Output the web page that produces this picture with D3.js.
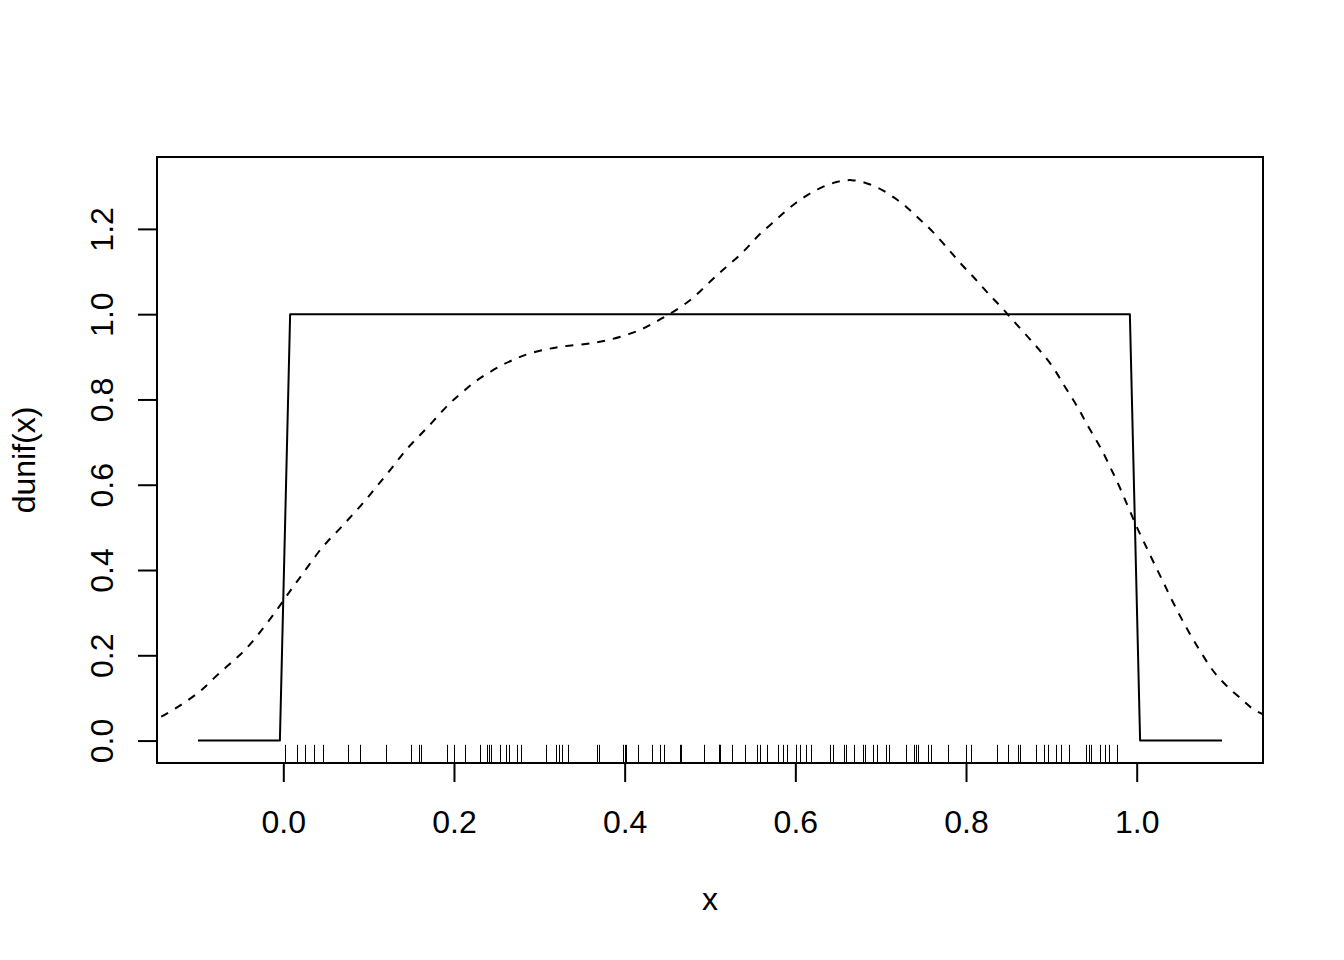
<!DOCTYPE html>
<html>
<head>
<meta charset="utf-8">
<script src="https://cdn.jsdelivr.net/npm/d3@7"></script>
<style>
  html, body { margin: 0; padding: 0; background: #fff; }
  text { font-family: "Liberation Sans", Arial, sans-serif; fill: #000; }
</style>
</head>
<body>
<svg id="chart" width="1344" height="960"></svg>
<script>
// Uniform density (curve of dunif over -0.1..1.1)
const unifX = [-0.1, -0.004, 0.008, 0.992, 1.004, 1.1];
const unifY = [0, 0, 1, 1, 0, 0];

// Kernel density estimate (dashed line)
const densX = [-0.16, -0.1436, -0.128, -0.1105, -0.0948, -0.0812, -0.0655, -0.052, -0.0383, -0.0227, -0.0078, 0.0047, 0.0164, 0.0281, 0.0398, 0.0515, 0.0651, 0.0776, 0.0905, 0.1022, 0.1139, 0.1256, 0.1373, 0.149, 0.1626, 0.1744, 0.188, 0.1996, 0.2133, 0.227, 0.2426, 0.2581, 0.2738, 0.2894, 0.3089, 0.3245, 0.344, 0.3634, 0.381, 0.4005, 0.418, 0.4337, 0.4493, 0.4669, 0.4824, 0.4961, 0.5097, 0.5214, 0.5351, 0.5468, 0.5585, 0.5722, 0.5858, 0.5995, 0.615, 0.6307, 0.6483, 0.6658, 0.6853, 0.7028, 0.7185, 0.732, 0.7437, 0.7594, 0.7817, 0.7952, 0.8081, 0.8198, 0.8303, 0.842, 0.8537, 0.8666, 0.8791, 0.8908, 0.9037, 0.9134, 0.9232, 0.933, 0.9408, 0.9505, 0.9603, 0.968, 0.9759, 0.9836, 0.9915, 1.0008, 1.0087, 1.0164, 1.0242, 1.0321, 1.0398, 1.0492, 1.0578, 1.0672, 1.0772, 1.087, 1.0988, 1.1123, 1.126, 1.1377, 1.16];
const densY = [0.040, 0.0546, 0.073, 0.096, 0.119, 0.147, 0.175, 0.198, 0.226, 0.266, 0.305, 0.342, 0.374, 0.406, 0.439, 0.467, 0.494, 0.522, 0.55, 0.578, 0.607, 0.635, 0.666, 0.694, 0.721, 0.746, 0.777, 0.8, 0.823, 0.846, 0.865, 0.883, 0.897, 0.909, 0.918, 0.924, 0.928, 0.932, 0.939, 0.95, 0.962, 0.979, 0.996, 1.018, 1.041, 1.069, 1.094, 1.115, 1.138, 1.163, 1.189, 1.212, 1.237, 1.26, 1.281, 1.298, 1.311, 1.317, 1.307, 1.291, 1.27, 1.249, 1.226, 1.198, 1.147, 1.115, 1.089, 1.062, 1.039, 1.016, 0.988, 0.96, 0.932, 0.905, 0.872, 0.837, 0.807, 0.775, 0.744, 0.712, 0.678, 0.645, 0.613, 0.578, 0.541, 0.497, 0.465, 0.432, 0.4, 0.368, 0.335, 0.298, 0.266, 0.233, 0.201, 0.169, 0.141, 0.115, 0.092, 0.069, 0.052];

const rugX = [0.0015, 0.0164, 0.0257, 0.0363, 0.0468, 0.0756, 0.0896, 0.1209, 0.1493, 0.1587, 0.1615, 0.1923, 0.2004, 0.2133, 0.2300, 0.2390, 0.2410, 0.2434, 0.2535, 0.2613, 0.2645, 0.2742, 0.2785, 0.3077, 0.3190, 0.3230, 0.3268, 0.3335, 0.3674, 0.3705, 0.3978, 0.4009, 0.4015, 0.4158, 0.4318, 0.4415, 0.4465, 0.4649, 0.4655, 0.4930, 0.5100, 0.5106, 0.5112, 0.5258, 0.5413, 0.5546, 0.5585, 0.5671, 0.5799, 0.5851, 0.5905, 0.6007, 0.6013, 0.6054, 0.6124, 0.6178, 0.6412, 0.6443, 0.6568, 0.6591, 0.6691, 0.6787, 0.6817, 0.6911, 0.6958, 0.7068, 0.7098, 0.7302, 0.7387, 0.7410, 0.7437, 0.7559, 0.7590, 0.7788, 0.7996, 0.8058, 0.8362, 0.8491, 0.8608, 0.8636, 0.8815, 0.8908, 0.8955, 0.9049, 0.9115, 0.9204, 0.9408, 0.9438, 0.9462, 0.9572, 0.9626, 0.9681, 0.9774];

const xTicks = [0, 0.2, 0.4, 0.6, 0.8, 1.0];
const yTicks = [0, 0.2, 0.4, 0.6, 0.8, 1.0, 1.2];
const xLabel = "x";
const yLabel = "dunif(x)";

const svg = d3.select("#chart");
const L = 157, R = 1263, T = 157, B = 763;

const x = d3.scaleLinear().domain([-0.148, 1.148]).range([L, R]);
const y = d3.scaleLinear().domain([-0.0526, 1.3686]).range([B, T]);

svg.append("rect").attr("width", 1344).attr("height", 960).attr("fill", "#fff");

svg.append("defs").append("clipPath").attr("id", "clip")
  .append("rect").attr("x", L).attr("y", T).attr("width", R - L).attr("height", B - T);

const plot = svg.append("g").attr("clip-path", "url(#clip)");

// uniform density solid line
plot.append("path")
  .datum(unifX.map((v, i) => [v, unifY[i]]))
  .attr("fill", "none").attr("stroke", "#000").attr("stroke-width", 2)
  .attr("stroke-linejoin", "round")
  .attr("d", d3.line().x(d => x(d[0])).y(d => y(d[1])));

// density dashed line
plot.append("path")
  .datum(densX.map((v, i) => [v, densY[i]]))
  .attr("fill", "none").attr("stroke", "#000").attr("stroke-width", 2)
  .attr("stroke-dasharray", "8,8")
  .attr("d", d3.line().curve(d3.curveBasis).x(d => x(d[0])).y(d => y(d[1])));

// rug
const rugLen = (B - T) * 0.03;
svg.append("g").selectAll("line").data(rugX).join("line")
  .attr("x1", d => Math.round(x(d)) + 0.5).attr("x2", d => Math.round(x(d)) + 0.5)
  .attr("y1", B).attr("y2", B - rugLen)
  .attr("stroke", "#000").attr("stroke-width", 1);

// box
svg.append("rect").attr("x", L).attr("y", T).attr("width", R - L).attr("height", B - T)
  .attr("fill", "none").attr("stroke", "#000").attr("stroke-width", 2);

// x axis
const xAxis = d3.axisBottom(x).tickValues(xTicks).tickSize(19).tickPadding(11)
  .tickFormat(d3.format(".1f"));
const gx = svg.append("g").attr("transform", `translate(0,${B})`).call(xAxis);
gx.select(".domain").attr("stroke-width", 2).attr("d", `M${x(0)},0H${x(1)}`);
gx.selectAll(".tick line").attr("stroke-width", 2);
gx.selectAll(".tick text").attr("font-size", 32)
  .attr("font-family", "'Liberation Sans', Arial, sans-serif")
  .attr("y", 70).attr("dy", null);

// y axis
const yAxis = d3.axisLeft(y).tickValues(yTicks).tickSize(19).tickFormat(d3.format(".1f"));
const gy = svg.append("g").attr("transform", `translate(${L},0)`).call(yAxis);
gy.select(".domain").attr("stroke-width", 2).attr("d", `M0,${y(0)}V${y(1.2)}`);
gy.selectAll(".tick line").attr("stroke-width", 2);
gy.selectAll(".tick text").attr("font-size", 32)
  .attr("font-family", "'Liberation Sans', Arial, sans-serif")
  .attr("x", null).attr("dy", null)
  .attr("text-anchor", "middle")
  .attr("transform", "translate(-44,0) rotate(-90)");

// axis titles
svg.append("text").attr("x", (L + R) / 2).attr("y", 910)
  .attr("text-anchor", "middle").attr("font-size", 32).text(xLabel);
svg.append("text").attr("transform", `translate(35,${(T + B) / 2}) rotate(-90)`)
  .attr("text-anchor", "middle").attr("font-size", 32).text(yLabel);
</script>
</body>
</html>
